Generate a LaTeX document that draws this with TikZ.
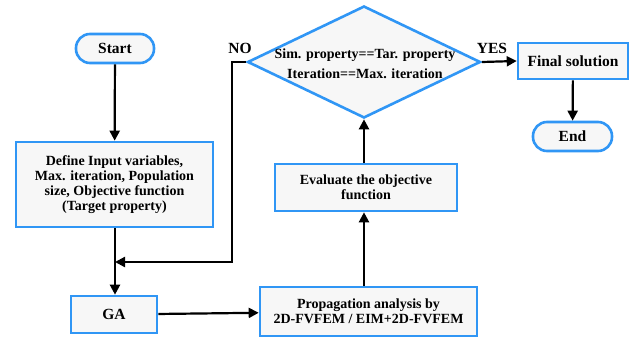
\documentclass[tikz,border=0pt]{standalone}
\usepackage{fontspec}
\setmainfont{Liberation Serif}
\usetikzlibrary{arrows.meta,shapes.geometric,calc}
\definecolor{bblue}{RGB}{48,150,245}
\definecolor{bfill}{RGB}{247,247,247}
\begin{document}
\begin{tikzpicture}[x=1pt,y=-1pt,
  box/.style={draw=bblue,fill=bfill,line width=2.6pt,inner sep=0pt,align=center,font=\fontsize{14}{15}\selectfont\bfseries},
  term/.style={box,rounded corners=14pt,font=\fontsize{15.5}{17}\selectfont\bfseries},
  bigbox/.style={box,font=\fontsize{15.5}{17}\selectfont\bfseries},
  conn/.style={line width=2.2pt,-{Triangle[length=10pt,width=10pt]}},
  lbl/.style={font=\fontsize{15.5}{17}\selectfont\bfseries,inner sep=0pt}]
\useasboundingbox (0,0) rectangle (638,337);
\node[term,minimum width=78pt,minimum height=29pt] (start) at (115,48.5) {Start};
\node[box,minimum width=197pt,minimum height=85pt] (define) at (114.5,184.5)
  {Define Input variables,\\Max. iteration, Population\\size, Objective function\\(Target property)};
\node[bigbox,minimum width=86pt,minimum height=37pt] (ga) at (114,314.5) {GA};
\node[box,minimum width=217pt,minimum height=49pt] (prop) at (368.5,311.5)
  {Propagation analysis by\\2D-FVFEM / EIM+2D-FVFEM};
\node[box,minimum width=182pt,minimum height=47pt] (eval) at (366,187.5)
  {Evaluate the objective\\function};
\node[diamond,draw=bblue,fill=bfill,line width=2.6pt,inner sep=0pt,minimum width=233pt,minimum height=112pt] (dec) at (364,62) {};
\node[align=center,inner sep=0pt,font=\fontsize{14}{20}\selectfont\bfseries] (dectext) at (365,64)
  {Sim. property==Tar. property\\Iteration==Max. iteration};
\node[bigbox,minimum width=110pt,minimum height=36pt] (final) at (573,61) {Final solution};
\node[term,minimum width=79pt,minimum height=29pt] (end) at (572.5,136.5) {End};
\node[lbl] (no) at (240,48) {NO};
\node[lbl] (yes) at (492,48) {YES};
\coordinate (merge) at (115,262);
\draw[conn] (start) -- (define);
\draw[conn] (define.south -| merge) -- (ga.north -| merge);
\draw[conn] (dec.west) -- (232,62) |- (merge);
\draw[conn] (ga) -- (prop);
\draw[conn] (prop.north -| dec) -- (eval.south -| dec);
\draw[conn] (eval.north -| dec) -- (dec.south);
\draw[conn] (dec.east) -- (final.west);
\draw[conn] (final) -- (end);
\end{tikzpicture}
\end{document}
